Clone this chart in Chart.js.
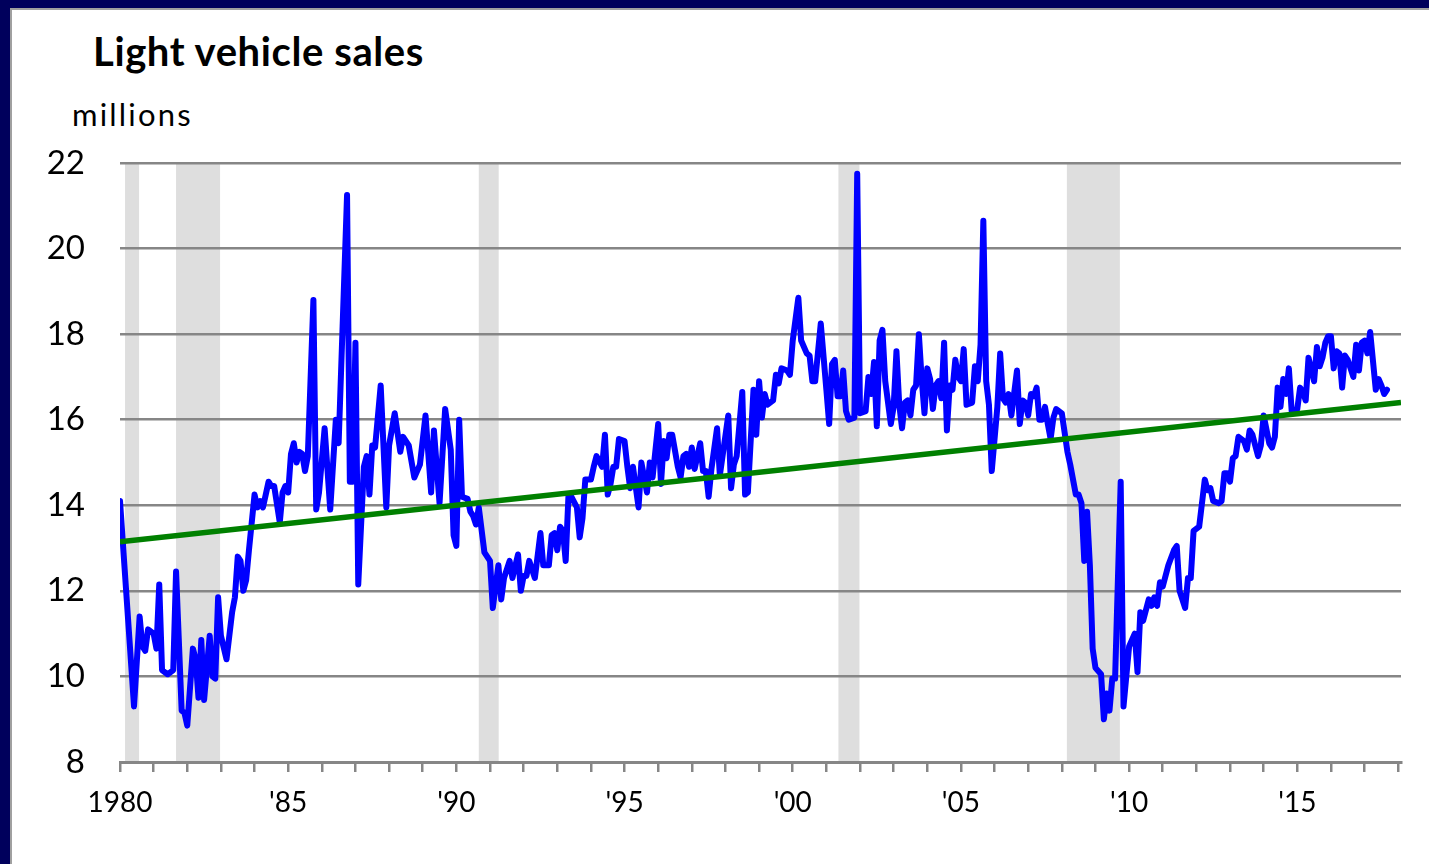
<!DOCTYPE html>
<html>
<head>
<meta charset="utf-8">
<title>Light vehicle sales</title>
<script src="https://cdn.jsdelivr.net/npm/chart.js@4.4.0/dist/chart.umd.min.js"></script>
<style>
    html, body {
        margin: 0;
        padding: 0;
        width: 1429px;
        height: 864px;
        overflow: hidden;
        background: #00005c;
    }
    #panel {
        position: absolute;
        left: 10px;
        top: 8px;
        right: 0;
        bottom: 0;
        background: #ffffff;
        border-left: 2px solid #a0a0a0;
        border-top: 2px solid #a0a0a0;
    }
    #salesChart {
        position: absolute;
        left: 0;
        top: 0;
    }
    .title {
        position: absolute;
        left: 93px;
        top: 31px;
        font: bold 40px Lato, sans-serif;
        line-height: 1;
        letter-spacing: 0.6px;
        color: #000;
    }
    .units {
        position: absolute;
        left: 72px;
        top: 99px;
        font: 31px Lato, sans-serif;
        line-height: 1;
        letter-spacing: 2.2px;
        color: #000;
    }
</style>
</head>
<body>
<div id="panel"></div>
<div class="title">Light vehicle sales</div>
<div class="units">millions</div>
<canvas id="salesChart" width="1429" height="864"></canvas>
<script>
// months counted from Jan 1980, values in millions (annual rate)
const salesMonths = [
    0, 5, 7, 8, 9, 10, 12, 13, 14, 15, 17, 19, 20, 22, 23, 24, 26, 27, 28, 29,
    30, 32, 33, 34, 35, 36, 38, 40, 41, 42, 43, 44, 45, 46, 48, 49, 50, 51, 53, 54,
    55, 57, 58, 59, 60, 61, 62, 63, 64, 65, 66, 67, 69, 70, 71, 73, 75, 77, 78, 81,
    82, 83, 84, 85, 87, 88, 89, 90, 91, 93, 95, 96, 98, 100, 101, 103, 105, 107, 109, 111,
    112, 114, 116, 118, 119, 120, 121, 122, 124, 125, 126, 127, 128, 130, 132, 133, 135, 136, 137, 139,
    140, 142, 143, 144, 145, 146, 148, 150, 151, 153, 154, 155, 156, 157, 158, 159, 160, 161, 163, 164,
    165, 166, 168, 169, 170, 172, 173, 174, 175, 176, 177, 178, 180, 181, 182, 183, 185, 186, 188, 189,
    190, 192, 193, 194, 195, 196, 197, 199, 200, 201, 202, 203, 204, 205, 206, 207, 208, 209, 210, 211,
    213, 214, 217, 218, 219, 220, 222, 223, 224, 226, 227, 228, 229, 230, 231, 233, 234, 235, 236, 238,
    239, 240, 242, 243, 245, 246, 247, 248, 250, 252, 253, 254, 255, 256, 257, 258, 259, 260, 262, 263,
    264, 266, 267, 268, 269, 270, 271, 272, 273, 275, 276, 277, 278, 279, 280, 281, 282, 283, 284, 285,
    286, 287, 288, 289, 290, 291, 292, 293, 294, 295, 296, 297, 298, 299, 300, 301, 302, 304, 305, 306,
    307, 308, 309, 310, 311, 313, 314, 315, 316, 317, 318, 320, 321, 322, 323, 324, 325, 326, 327, 328,
    329, 330, 331, 332, 333, 334, 336, 337, 338, 339, 341, 342, 343, 344, 345, 346, 347, 348, 350, 351,
    352, 353, 354, 355, 357, 358, 360, 362, 363, 364, 365, 367, 368, 369, 370, 371, 372, 374, 376, 377,
    378, 380, 381, 382, 383, 385, 387, 388, 389, 390, 392, 393, 394, 395, 396, 397, 398, 399, 401, 402,
    403, 404, 405, 406, 407, 408, 410, 411, 412, 413, 414, 415, 416, 417, 418, 420, 421, 422, 423, 424,
    426, 427, 428, 429, 430, 431, 432, 433, 434, 435, 436, 437, 438, 440, 441, 442, 443, 444, 445, 446,
    448, 449, 450, 451, 452
];
const salesValues = [
    14.1, 9.3, 11.4, 10.7, 10.6, 11.1, 11.0, 10.65, 12.15, 10.15, 10.05, 10.15, 12.45, 9.2, 9.15, 8.85, 10.65, 10.4, 9.5, 10.85,
    9.45, 10.95, 10.0, 9.95, 11.85, 10.95, 10.4, 11.5, 11.85, 12.8, 12.7, 12.0, 12.25, 12.95, 14.25, 13.95, 14.1, 13.95, 14.55, 14.45,
    14.45, 13.6, 14.3, 14.45, 14.3, 15.2, 15.45, 15.0, 15.25, 15.2, 14.8, 15.15, 18.8, 13.9, 14.3, 15.8, 13.9, 16.0, 15.45, 21.25,
    14.55, 14.55, 17.8, 12.15, 14.9, 15.15, 14.25, 15.4, 15.35, 16.8, 13.95, 15.4, 16.15, 15.25, 15.6, 15.4, 14.65, 14.95, 16.1, 14.3,
    15.75, 14.05, 16.25, 15.3, 13.3, 13.05, 16.0, 14.2, 14.15, 13.85, 13.75, 13.55, 13.95, 12.9, 12.7, 11.6, 12.6, 11.8, 12.3, 12.7,
    12.3, 12.85, 12.0, 12.35, 12.35, 12.7, 12.3, 13.35, 12.6, 12.6, 13.3, 13.35, 12.95, 13.5, 13.4, 12.7, 14.25, 14.2, 13.95, 13.25,
    13.7, 14.6, 14.6, 14.9, 15.15, 14.9, 15.65, 14.25, 14.5, 14.9, 14.9, 15.55, 15.5, 14.9, 14.4, 14.9, 13.95, 15.0, 14.3, 15.0,
    14.65, 15.9, 14.5, 15.5, 15.1, 15.65, 15.65, 14.9, 14.65, 15.15, 15.2, 14.9, 15.35, 14.85, 15.15, 15.45, 14.8, 14.8, 14.2, 14.85,
    15.8, 14.7, 16.1, 14.4, 14.95, 15.15, 16.65, 14.25, 14.3, 16.7, 15.65, 16.9, 16.05, 16.6, 16.35, 16.45, 17.05, 16.85, 17.2, 17.15,
    17.05, 17.85, 18.85, 17.85, 17.55, 17.5, 16.9, 16.9, 18.25, 16.7, 15.9, 17.3, 17.4, 16.55, 16.55, 17.15, 16.2, 16.0, 16.05, 21.75,
    16.15, 16.2, 17.0, 16.6, 17.35, 15.85, 17.85, 18.1, 16.9, 15.9, 16.3, 17.6, 16.35, 15.8, 16.4, 16.45, 16.1, 16.7, 16.8, 18.0,
    16.95, 16.15, 17.2, 16.95, 16.25, 16.8, 16.9, 16.5, 17.8, 15.75, 16.8, 16.7, 17.4, 17.0, 16.9, 17.65, 16.35, 16.4, 17.25, 16.9,
    17.75, 20.65, 16.9, 16.35, 14.8, 16.3, 17.55, 16.5, 16.4, 16.6, 16.1, 17.15, 15.9, 16.45, 16.4, 16.1, 16.6, 16.55, 16.75, 16.0,
    16.0, 16.3, 15.9, 15.55, 16.05, 16.25, 16.15, 15.7, 15.25, 14.95, 14.25, 14.25, 14.05, 12.7, 13.85, 12.6, 10.65, 10.2, 10.05, 9.0,
    9.6, 9.2, 9.95, 9.95, 14.55, 9.3, 10.7, 11.0, 10.1, 11.5, 11.3, 11.8, 11.65, 11.85, 11.65, 12.2, 12.1, 12.6, 12.95, 13.05,
    12.0, 11.6, 12.3, 12.3, 13.4, 13.5, 14.6, 14.35, 14.4, 14.1, 14.05, 14.1, 14.75, 14.75, 14.55, 15.1, 15.15, 15.6, 15.5, 15.3,
    15.75, 15.65, 15.4, 15.15, 15.4, 16.1, 15.45, 15.35, 15.6, 16.75, 16.3, 16.95, 16.6, 17.2, 16.2, 16.25, 16.75, 16.65, 16.45, 17.45,
    16.9, 17.7, 17.25, 17.45, 17.8, 17.95, 17.95, 17.2, 17.6, 17.55, 16.75, 17.5, 17.4, 17.0, 17.75, 17.15, 17.8, 17.85, 17.55, 18.05,
    16.7, 16.95, 16.8, 16.6, 16.7
];

const trendMonths = [0, 457];
const trendValues = [13.15, 16.4];

const recessionStart = [1.8, 20, 128, 256.3, 337.8];
const recessionEnd = [6.8, 35.7, 135.1, 263.8, 356.7];

const yMin = 8;
const yMax = 22;
const yStep = 2;

function yearLabel(m) {
    if (m % 60 !== 0) {
        return '';
    }
    if (m === 0) {
        return '1980';
    }
    let yy = (80 + m / 12) % 100;
    return "'" + String(yy).padStart(2, '0');
}

function toPoints(xs, ys) {
    let pts = [];
    for (let i = 0; i < xs.length; i++) {
        pts.push({x: xs[i], y: ys[i]});
    }
    return pts;
}

const recessionShading = {
    id: 'recessionShading',
    beforeDraw(chart) {
        let ctx = chart.ctx;
        let area = chart.chartArea;
        let xScale = chart.scales.x;
        ctx.save();
        ctx.fillStyle = '#dedede';
        for (let i = 0; i < recessionStart.length; i++) {
            let x0 = xScale.getPixelForValue(recessionStart[i]);
            let x1 = xScale.getPixelForValue(recessionEnd[i]);
            ctx.fillRect(x0, area.top, x1 - x0, area.bottom - area.top);
        }
        ctx.restore();
    }
};

Chart.defaults.font.family = 'Lato';
Chart.defaults.color = '#000';

let ctx = document.getElementById('salesChart').getContext('2d');
let salesChart = new Chart(ctx, {
    type: 'line',
    data: {
        datasets: [
            {
                label: 'Light vehicle sales',
                data: toPoints(salesMonths, salesValues),
                borderColor: '#0000ff',
                backgroundColor: 'transparent',
                borderWidth: 6,
                borderJoinStyle: 'round',
                borderCapStyle: 'round',
                pointRadius: 0,
                tension: 0,
                order: 1
            },
            {
                label: 'Trend',
                data: toPoints(trendMonths, trendValues),
                borderColor: '#008000',
                backgroundColor: 'transparent',
                borderWidth: 5.5,
                pointRadius: 0,
                tension: 0,
                order: 0
            }
        ]
    },
    plugins: [recessionShading],
    options: {
        responsive: false,
        animation: false,
        layout: {
            autoPadding: false,
            padding: {top: 163, right: 28, bottom: 0, left: 0}
        },
        plugins: {
            legend: {display: false},
            tooltip: {enabled: false}
        },
        scales: {
            x: {
                type: 'linear',
                min: 0,
                max: 457,
                afterFit: function (scale) {
                    scale.height = 102;
                },
                grid: {
                    drawOnChartArea: false,
                    drawTicks: true,
                    tickLength: 10,
                    color: '#868686',
                    lineWidth: 2.5
                },
                border: {
                    display: true,
                    color: '#868686',
                    width: 3
                },
                ticks: {
                    stepSize: 12,
                    autoSkip: false,
                    includeBounds: false,
                    maxRotation: 0,
                    padding: 14,
                    font: {size: 28},
                    callback: function (value) {
                        return yearLabel(value);
                    }
                }
            },
            y: {
                min: yMin,
                max: yMax,
                afterFit: function (scale) {
                    scale.width = 120;
                },
                grid: {
                    drawTicks: false,
                    color: '#868686',
                    lineWidth: 2.5
                },
                border: {display: false},
                ticks: {
                    stepSize: yStep,
                    padding: 35,
                    font: {size: 33}
                }
            }
        }
    }
});
</script>
</body>
</html>
